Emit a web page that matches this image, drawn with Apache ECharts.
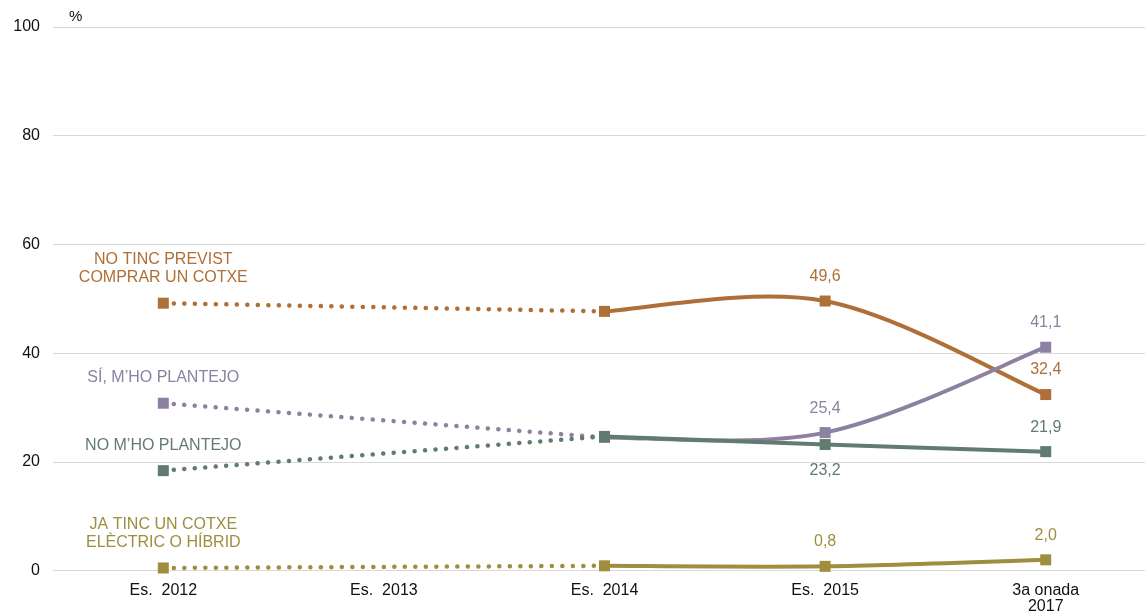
<!DOCTYPE html>
<html>
<head>
<meta charset="utf-8">
<script src="https://cdn.jsdelivr.net/npm/echarts@6/dist/echarts.min.js"></script>
<style>
  html, body { margin: 0; padding: 0; background: #fff; }
  #chart { width: 1145px; height: 615px; }
</style>
</head>
<body>
<div id="chart"></div>
<script>
// categories (x positions 0..4)
const categories = ["Es.  2012", "Es.  2013", "Es.  2014", "Es.  2015", "3a onada\n2017"];
const yTicks = [0, 20, 40, 60, 80, 100];

// values per wave (2013 has no data)
const noPrevist = [49.2, null, 47.7, 49.6, 32.4];
const siPlantejo = [30.8, null, 24.5, 25.4, 41.1];
const noPlantejo = [18.4, null, 24.7, 23.2, 21.9];
const jaTinc = [0.5, null, 0.9, 0.8, 2.0];

const names = [
  "NO TINC PREVIST\nCOMPRAR UN COTXE",
  "SÍ, M’HO PLANTEJO",
  "NO M’HO PLANTEJO",
  "JA TINC UN COTXE\nELÈCTRIC O HÍBRID"
];
const colors = ["#ae6f38", "#8d81a2", "#617b70", "#9e8e3e"];
const values = [noPrevist, siPlantejo, noPlantejo, jaTinc];
// where the value label of 2015 goes
const label2015 = ["top", "top", "bottom", "top"];

const font = "'Liberation Sans', Arial, sans-serif";
const solidX = [2, 3, 4];

function fmt(v) {
  return v.toFixed(1).replace(".", ",");
}

// excel-like smooth curve between solid points (catmull-rom -> bezier)
function smoothRender(vals, color) {
  return function (params, api) {
    const i = params.dataIndex;
    if (i >= solidX.length - 1) return null;
    const p = solidX.map((x) => api.coord([x, vals[x]]));
    const p0 = p[Math.max(i - 1, 0)];
    const p1 = p[i];
    const p2 = p[i + 1];
    const p3 = p[Math.min(i + 2, p.length - 1)];
    return {
      type: "bezierCurve",
      shape: {
        x1: p1[0], y1: p1[1],
        cpx1: p1[0] + (p2[0] - p0[0]) / 6,
        cpy1: p1[1] + (p2[1] - p0[1]) / 6,
        cpx2: p2[0] - (p3[0] - p1[0]) / 6,
        cpy2: p2[1] - (p3[1] - p1[1]) / 6,
        x2: p2[0], y2: p2[1]
      },
      style: { stroke: color, lineWidth: 4, fill: null, lineCap: "round" }
    };
  };
}

const lineSeries = [];
const markSeries = [];
values.forEach((vals, i) => {
  // dotted part 2012 -> 2014
  lineSeries.push({
    type: "line",
    z: 2,
    symbol: "none",
    lineStyle: { color: colors[i], width: 4.5, type: [0.1, 10.4], cap: "round" },
    data: [[0, vals[0]], [2, vals[2]]]
  });
  // solid smooth part 2014 -> 2017
  lineSeries.push({
    type: "custom",
    z: 2,
    renderItem: smoothRender(vals, colors[i]),
    data: solidX.map((x) => [x, vals[x]])
  });
  // markers with labels
  markSeries.push({
    type: "scatter",
    z: 5,
    symbol: "rect",
    symbolSize: 11,
    itemStyle: { color: colors[i], opacity: 1 },
    data: [0, 2, 3, 4].map((x) => {
      let label;
      if (x === 0) {
        label = {
          show: true, position: "top", distance: 11, formatter: names[i],
          lineHeight: 18
        };
      } else if (x === 2) {
        label = { show: false };
      } else {
        const pos = x === 3 ? label2015[i] : "top";
        label = {
          show: true, position: pos, distance: pos === "top" ? 11 : 13,
          formatter: fmt(vals[x])
        };
      }
      label.color = colors[i];
      label.fontSize = 16;
      label.fontFamily = font;
      return { value: [x, vals[x]], label: label };
    })
  });
});

const chart = echarts.init(document.getElementById("chart"));
chart.setOption({
  animation: false,
  title: {
    text: "%",
    left: 64,
    top: 4,
    textStyle: { color: "#111", fontSize: 15, fontWeight: "normal", fontFamily: font }
  },
  grid: { left: 53, right: 0, top: 27, bottom: 44.3 },
  xAxis: {
    type: "value",
    min: -0.5,
    max: 4.45,
    axisLine: { show: false },
    axisTick: { show: false },
    splitLine: { show: false },
    axisLabel: {
      customValues: [0, 1, 2, 3, 4],
      formatter: (v) => categories[Math.round(v)],
      color: "#111",
      fontSize: 16,
      lineHeight: 16,
      margin: 12,
      fontFamily: font
    }
  },
  yAxis: {
    type: "value",
    min: yTicks[0],
    max: yTicks[yTicks.length - 1],
    interval: 20,
    axisLine: { show: false },
    axisTick: { show: false },
    splitLine: { lineStyle: { color: "#d9d9d9", width: 1 } },
    axisLabel: { color: "#111", fontSize: 16, margin: 13, fontFamily: font }
  },
  series: lineSeries.concat(markSeries)
});
</script>
</body>
</html>
